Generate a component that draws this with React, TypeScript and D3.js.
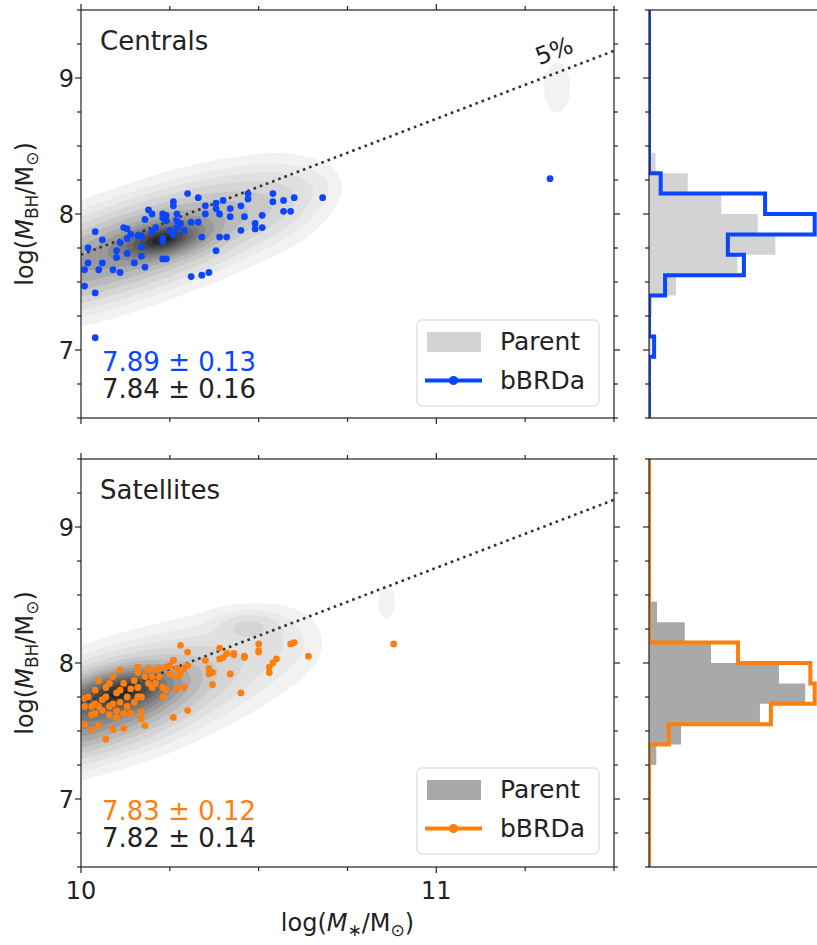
import React, { useMemo } from "react"
import * as d3 from "d3"

const W = 817
const H = 945

// log(M*) and log(MBH) of the bBRDa galaxies
const centralsX = [10.01, 10.04, 10.04, 10.02, 10.01, 10.02, 10.04, 10.06, 10.05, 10.06, 10.09, 10.11, 10.1, 10.11, 10.12, 10.13, 10.13, 10.1, 10.13, 10.14, 10.15, 10.16, 10.17, 10.18, 10.19, 10.17, 10.17, 10.18, 10.2, 10.2, 10.21, 10.23, 10.23, 10.24, 10.24, 10.23, 10.23, 10.23, 10.24, 10.25, 10.26, 10.26, 10.26, 10.27, 10.28, 10.29, 10.27, 10.27, 10.3, 10.31, 10.31, 10.33, 10.33, 10.34, 10.34, 10.35, 10.35, 10.36, 10.38, 10.38, 10.39, 10.39, 10.38, 10.4, 10.41, 10.42, 10.42, 10.45, 10.45, 10.46, 10.47, 10.47, 10.49, 10.49, 10.51, 10.51, 10.54, 10.54, 10.57, 10.57, 10.59, 10.6, 10.68, 11.32]
const centralsY = [7.47, 7.42, 7.09, 7.64, 7.59, 7.75, 7.87, 7.81, 7.59, 7.64, 7.59, 7.57, 7.68, 7.79, 7.9, 7.89, 7.82, 7.73, 7.71, 7.85, 7.64, 7.84, 7.84, 7.96, 8.03, 7.76, 7.69, 7.61, 8.0, 7.87, 7.9, 8.0, 7.97, 7.95, 7.99, 7.8, 7.82, 7.67, 7.67, 7.88, 7.85, 8.09, 8.06, 8.0, 7.93, 7.88, 7.95, 7.9, 8.15, 7.94, 7.54, 8.12, 7.94, 7.83, 7.55, 8.0, 8.06, 7.57, 8.08, 8.04, 7.83, 8.0, 7.73, 8.1, 7.83, 8.04, 7.98, 7.88, 8.06, 7.98, 8.15, 8.11, 7.89, 7.93, 7.99, 7.9, 8.15, 8.09, 8.1, 8.02, 8.02, 8.12, 8.12, 8.26]

const satellitesX = [10.01, 10.01, 10.01, 10.02, 10.03, 10.03, 10.03, 10.04, 10.04, 10.04, 10.05, 10.05, 10.05, 10.06, 10.06, 10.07, 10.07, 10.07, 10.08, 10.08, 10.08, 10.09, 10.09, 10.09, 10.1, 10.1, 10.1, 10.11, 10.11, 10.11, 10.12, 10.12, 10.12, 10.13, 10.13, 10.14, 10.14, 10.15, 10.15, 10.16, 10.16, 10.16, 10.16, 10.17, 10.17, 10.17, 10.18, 10.18, 10.19, 10.19, 10.19, 10.2, 10.2, 10.21, 10.21, 10.22, 10.22, 10.23, 10.23, 10.24, 10.24, 10.25, 10.25, 10.26, 10.26, 10.27, 10.26, 10.27, 10.27, 10.28, 10.28, 10.29, 10.3, 10.3, 10.3, 10.29, 10.35, 10.36, 10.36, 10.37, 10.37, 10.39, 10.39, 10.4, 10.41, 10.42, 10.43, 10.43, 10.45, 10.46, 10.46, 10.5, 10.5, 10.5, 10.53, 10.53, 10.54, 10.55, 10.59, 10.6, 10.64, 10.88]
const satellitesY = [7.74, 7.68, 7.55, 7.75, 7.68, 7.62, 7.51, 7.8, 7.7, 7.63, 7.87, 7.68, 7.54, 7.73, 7.65, 7.82, 7.44, 7.75, 7.68, 7.62, 7.85, 7.51, 7.9, 7.7, 7.6, 7.78, 7.65, 7.95, 7.8, 7.71, 7.63, 7.52, 7.85, 7.75, 7.68, 7.63, 7.81, 7.71, 7.87, 7.93, 7.75, 7.97, 7.82, 7.64, 7.75, 7.59, 7.54, 7.9, 7.95, 7.85, 7.96, 7.9, 7.82, 7.95, 7.85, 7.9, 7.96, 7.82, 7.75, 7.8, 7.97, 7.92, 7.98, 8.02, 8.02, 7.81, 7.6, 7.9, 7.96, 7.92, 8.13, 7.96, 8.08, 7.65, 7.98, 7.82, 8.02, 7.92, 7.96, 7.93, 7.84, 8.11, 8.03, 8.04, 8.07, 7.92, 8.06, 8.07, 7.78, 8.04, 8.05, 8.14, 8.09, 8.08, 7.93, 7.97, 8.0, 8.03, 8.14, 8.15, 8.05, 8.14]

// parent sample density, as gaussian pieces: [x, y, sx, sy, rho, peak]
const centralsParentKde = [
  [9.85, 7.48, 0.1, 0.19, 0, 0.18],
  [10.0, 7.62, 0.1, 0.19, 0, 0.27],
  [10.15, 7.76, 0.1, 0.19, 0, 0.3],
  [10.3, 7.9, 0.1, 0.19, 0, 0.27],
  [10.45, 8.04, 0.1, 0.19, 0, 0.18],
  [10.58, 8.15, 0.08, 0.18, 0, 0.09],
  [10.68, 8.22, 0.05, 0.12, 0, 0.03],
  [10.23, 7.81, 0.07, 0.08, 0.4, 0.5],
  [11.34, 8.93, 0.032, 0.16, 0, 0.062],
]
const satellitesParentKde = [
  [9.85, 7.48, 0.1, 0.19, 0, 0.25],
  [10.0, 7.62, 0.1, 0.19, 0, 0.33],
  [10.15, 7.76, 0.1, 0.2, 0, 0.3],
  [10.3, 7.9, 0.1, 0.21, 0, 0.15],
  [10.45, 8.04, 0.1, 0.22, 0, 0.08],
  [10.58, 8.16, 0.08, 0.18, 0, 0.05],
  [10.12, 7.8, 0.09, 0.1, 0.4, 0.4],
  [10.47, 8.28, 0.06, 0.07, 0, 0.08],
  [10.86, 8.45, 0.019, 0.105, 0, 0.058],
]
const kdeLevels = [0.035, 0.07, 0.11, 0.16, 0.22, 0.28, 0.35, 0.42, 0.5, 0.58, 0.66, 0.74, 0.82, 0.9, 0.96]

// histograms of log(MBH), density per 0.15 dex bin
const binEdges = [6.5, 6.65, 6.8, 6.95, 7.1, 7.25, 7.4, 7.55, 7.7, 7.85, 8.0, 8.15, 8.3, 8.45, 8.6, 8.75, 8.9, 9.05, 9.2, 9.35, 9.5]
const centralsHist = [0, 0, 0, 0.07, 0, 0, 0.22, 1.3, 1.08, 2.27, 1.59, 0.16, 0, 0, 0, 0, 0, 0, 0, 0]
const centralsParentHist = [0, 0, 0, 0.03, 0, 0.04, 0.37, 1.21, 1.73, 1.49, 0.99, 0.53, 0.09, 0, 0, 0, 0, 0, 0, 0]
const satellitesHist = [0, 0, 0, 0, 0, 0, 0.27, 1.67, 2.27, 2.21, 1.22, 0, 0, 0, 0, 0, 0, 0, 0, 0]
const satellitesParentHist = [0, 0, 0, 0, 0, 0.1, 0.44, 1.52, 2.14, 1.78, 0.85, 0.49, 0.11, 0, 0, 0, 0, 0, 0, 0]

// reference line labelled 5%
const refLineX = [10, 11.5]
const refLineY = [7.7, 9.2]

const xMajor = [10, 11]
const xMinor = [10.25, 10.5, 10.75, 11.25, 11.5]
const yMajor = [7, 8, 9]
const yMinor = [6.5, 6.75, 7.25, 7.5, 7.75, 8.25, 8.5, 8.75, 9.25, 9.5]

const FONT = "DejaVu Sans"
const BLUE = "#0a45ff"
const ORANGE = "#ff7f0e"

const left = 81, right = 614
const histLeft = 649, histW = 180

function kdePaths(comps: number[][], xs: any, ys: any) {
  const nx = 360, ny = 300
  const x0 = 9.8, x1 = 11.6, y0 = 6.5, y1 = 9.5
  const vals = new Float64Array(nx * ny)
  for (let j = 0; j < ny; j++) {
    const y = y0 + (j + 0.5) * (y1 - y0) / ny
    for (let i = 0; i < nx; i++) {
      const x = x0 + (i + 0.5) * (x1 - x0) / nx
      let s = 0
      for (const [mx, my, sx, sy, r, a] of comps) {
        const u = (x - mx) / sx, v = (y - my) / sy
        s += a * Math.exp(-0.5 * (u * u - 2 * r * u * v + v * v) / (1 - r * r))
      }
      vals[j * nx + i] = s
    }
  }
  const mx = d3.max(vals) as number
  const cs = d3.contours().size([nx, ny]).thresholds(kdeLevels.map(f => f * mx))(Array.from(vals))
  const proj = d3.geoTransform({
    point(px: number, py: number) {
      this.stream.point(xs(x0 + px * (x1 - x0) / nx), ys(y0 + py * (y1 - y0) / ny))
    },
  })
  const path = d3.geoPath(proj)
  return cs.map((c, i) => ({ d: path(c as any) || "", fill: d3.interpolateGreys(0.1 + 0.78 * i / (kdeLevels.length - 1)) }))
}

function stepPoints(hist: number[]) {
  const pts: [number, number][] = [[0, binEdges[0]]]
  hist.forEach((v, i) => {
    pts.push([v, binEdges[i]])
    pts.push([v, binEdges[i + 1]])
  })
  pts.push([0, binEdges[binEdges.length - 1]])
  return pts
}

function Ticks({ xs, ys, top, bottom, lx, rx, xt }: any) {
  return (
    <g stroke="#222" strokeWidth={1.2}>
      {xt && [...xMajor.map(v => [v, 6]), ...xMinor.map(v => [v, 4])].map(([v, l], i) => (
        <g key={"x" + i}>
          <line x1={xs(v)} x2={xs(v)} y1={top} y2={top - l} />
          <line x1={xs(v)} x2={xs(v)} y1={bottom} y2={bottom + l} />
        </g>
      ))}
      {[...yMajor.map(v => [v, 6]), ...yMinor.map(v => [v, 4])].map(([v, l], i) => (
        <g key={"y" + i}>
          {lx != null && <line x1={lx} x2={lx - l} y1={ys(v)} y2={ys(v)} />}
          {rx != null && <line x1={rx} x2={rx + l} y1={ys(v)} y2={ys(v)} />}
        </g>
      ))}
    </g>
  )
}

function Row({ top, name, xs0, ys0, kde, color, hist, parentHist, parentColor, stats, showPct, showXLabels }: any) {
  const bottom = top + 408
  const xs = d3.scaleLinear().domain([10, 11.5]).range([left, right])
  const ys = d3.scaleLinear().domain([6.5, 9.5]).range([bottom, top])
  const hx = d3.scaleLinear().domain([0, histW / 73]).range([histLeft, histLeft + histW])
  const paths = useMemo(() => kdePaths(kde, xs, ys), [top])
  const clipId = "clip" + top
  const hclipId = "hclip" + top

  const line = d3.line<[number, number]>().x(d => hx(d[0])).y(d => ys(d[1]))
  const step = line(stepPoints(hist)) || ""
  const parentArea = (line(stepPoints(parentHist)) || "") + "Z"
  const refLine = d3.line<number>().x(d => xs(d)).y((d, i) => ys(refLineY[i]))(refLineX) || ""

  const lgX = 417, lgY = top + (name === "Centrals" ? 310 : 309)
  const pctX = xs(11.34), pctY = ys(9.04) - 14
  const ang = -Math.atan((ys(refLineY[0]) - ys(refLineY[1])) / (xs(refLineX[1]) - xs(refLineX[0]))) * 180 / Math.PI

  return (
    <g>
      <defs>
        <clipPath id={clipId}><rect x={left} y={top} width={right - left} height={bottom - top} /></clipPath>
        <clipPath id={hclipId}><rect x={histLeft} y={top} width={histW} height={bottom - top} /></clipPath>
      </defs>
      <g clipPath={`url(#${clipId})`}>
        {paths.map((p: any, i: number) => <path key={i} d={p.d} fill={p.fill} stroke="none" />)}
        <path d={refLine} fill="none" stroke="#333" strokeWidth={2.6} strokeDasharray="2.6 4" />
        {xs0.map((x: number, i: number) => <circle key={i} cx={xs(x)} cy={ys(ys0[i])} r={3.4} fill={color} />)}
      </g>
      {showPct && (
        <text x={pctX} y={pctY} transform={`rotate(${ang} ${pctX} ${pctY})`} textAnchor="middle" fontFamily={FONT} fontSize={24} fill="#222">5%</text>
      )}
      <text x={100} y={top + 40} fontFamily={FONT} fontSize={26} fill="#222">{name}</text>
      <text x={102} y={bottom - 47} fontFamily={FONT} fontSize={26} fill={color}>{stats[0]}</text>
      <text x={102} y={bottom - 20} fontFamily={FONT} fontSize={26} fill="#222">{stats[1]}</text>

      <g>
        <rect x={lgX} y={lgY} width={182} height={86} rx={5} fill="white" fillOpacity={0.8} stroke="#d4d4d4" />
        <rect x={427} y={lgY + 12} width={54} height={20} fill={parentColor} />
        <text x={500} y={lgY + 30} fontFamily={FONT} fontSize={25} fill="#222">Parent</text>
        <line x1={425} x2={482} y1={lgY + 60.5} y2={lgY + 60.5} stroke={color} strokeWidth={4} />
        <circle cx={453.5} cy={lgY + 60.5} r={4.6} fill={color} />
        <text x={500} y={lgY + 69} fontFamily={FONT} fontSize={25} fill="#222">bBRDa</text>
      </g>

      <g clipPath={`url(#${hclipId})`}>
        <path d={parentArea} fill={parentColor} stroke="none" />
        <path d={step} fill="none" stroke={color} strokeWidth={4} />
      </g>

      <rect x={left} y={top} width={right - left} height={bottom - top} fill="none" stroke="#222" strokeWidth={1.2} />
      <rect x={histLeft} y={top} width={histW} height={bottom - top} fill="none" stroke="#222" strokeWidth={1.2} />
      <Ticks xs={xs} ys={ys} top={top} bottom={bottom} lx={left} rx={right} xt />
      <Ticks xs={xs} ys={ys} top={top} bottom={bottom} lx={histLeft} />

      {yMajor.map(v => (
        <text key={v} x={74} y={ys(v)} dy="0.36em" textAnchor="end" fontFamily={FONT} fontSize={24} fill="#222">{v}</text>
      ))}
      {showXLabels && xMajor.map(v => (
        <text key={v} x={xs(v)} y={bottom + 32} textAnchor="middle" fontFamily={FONT} fontSize={24} fill="#222">{v}</text>
      ))}
      <text transform={`translate(33 ${(top + bottom) / 2}) rotate(-90)`} textAnchor="middle" fontFamily={FONT} fontSize={24} fill="#222">
        log(<tspan fontStyle="italic">M</tspan>
        <tspan fontSize={17} dy={5}>BH</tspan>
        <tspan dy={-5}>/M</tspan>
        <tspan fontSize={17} dy={5}>⊙</tspan>
        <tspan dy={-5}>)</tspan>
      </text>
    </g>
  )
}

export default function App() {
  return (
    <svg width={W} height={H} style={{ position: "absolute", left: 0, top: 0, background: "white" }}>
      <Row top={10} name="Centrals" xs0={centralsX} ys0={centralsY} kde={centralsParentKde} color={BLUE}
        hist={centralsHist} parentHist={centralsParentHist} parentColor="#d3d3d3"
        stats={["7.89 ± 0.13", "7.84 ± 0.16"]} showPct />
      <Row top={459} name="Satellites" xs0={satellitesX} ys0={satellitesY} kde={satellitesParentKde} color={ORANGE}
        hist={satellitesHist} parentHist={satellitesParentHist} parentColor="#a9a9a9"
        stats={["7.83 ± 0.12", "7.82 ± 0.14"]} showXLabels />
      <text x={347.5} y={931} textAnchor="middle" fontFamily={FONT} fontSize={24} fill="#222">
        log(<tspan fontStyle="italic">M</tspan>
        <tspan fontSize={17} dy={5}>∗</tspan>
        <tspan dy={-5}>/M</tspan>
        <tspan fontSize={17} dy={5}>⊙</tspan>
        <tspan dy={-5}>)</tspan>
      </text>
    </svg>
  )
}
